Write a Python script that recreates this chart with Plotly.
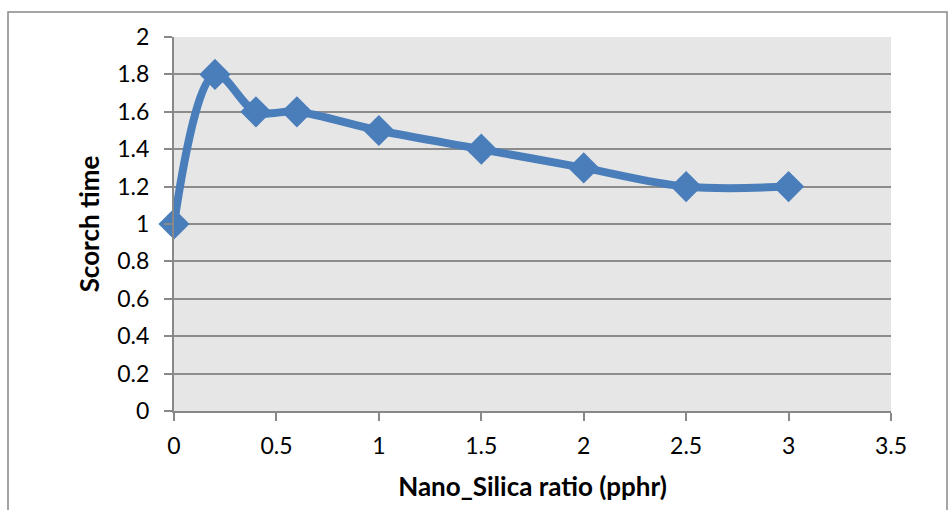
import plotly.graph_objects as go

x_vals = [0, 0.2, 0.4, 0.6, 1, 1.5, 2, 2.5, 3]
scorch_time = [1.0, 1.8, 1.6, 1.6, 1.5, 1.4, 1.3, 1.2, 1.2]

W, H = 950, 510
L, R, T, B = 174, 59, 37, 99
pw, ph = W - L - R, H - T - B

fig = go.Figure()
fig.add_trace(go.Scatter(
    x=x_vals, y=scorch_time, mode="lines+markers",
    line=dict(color="#4a7ebb", width=8, shape="spline", smoothing=1),
    marker=dict(symbol="diamond", size=24, color="#4a7ebb"),
    showlegend=False, cliponaxis=False,
))

fam = "Lato, Open Sans, sans-serif"
tickfont = dict(family=fam, size=23, color="#000000")
titlefont = dict(family=fam, size=26, color="#000000")

fig.update_layout(
    width=W, height=H,
    margin=dict(l=L, r=R, t=T, b=B),
    paper_bgcolor="white", plot_bgcolor="#e6e6e6",
    font=dict(family=fam, size=23, color="#000000"),
    xaxis=dict(range=[0, 3.5], dtick=0.5, tickmode="linear", showgrid=False,
               zeroline=False, showline=True, linecolor="#888888", linewidth=2,
               ticks="outside", ticklen=8, tickcolor="#888888", tickwidth=2,
               ticklabelstandoff=5, tickfont=tickfont,
               title=dict(text="<b>Nano_Silica ratio (pphr)</b>", standoff=20,
                          font=titlefont)),
    yaxis=dict(range=[0, 2], dtick=0.2, tickmode="linear", showgrid=True,
               gridcolor="#8c8c8c", gridwidth=1.5, zeroline=False,
               showline=True, linecolor="#888888", linewidth=2,
               ticks="outside", ticklen=8, tickcolor="#888888", tickwidth=2,
               ticklabelstandoff=10, tickfont=tickfont,
               title=dict(text="<b>Scorch time</b>", standoff=10,
                          font=titlefont)),
)

# outer chart border
fig.add_shape(type="rect", xref="paper", yref="paper",
              x0=(8 - L) / pw, x1=(947 - L) / pw,
              y0=-(515 - T - ph) / ph, y1=1 + (T - 12) / ph,
              line=dict(color="#888888", width=1.5), fillcolor="rgba(0,0,0,0)",
              layer="below")

fig.write_html("out.html")
